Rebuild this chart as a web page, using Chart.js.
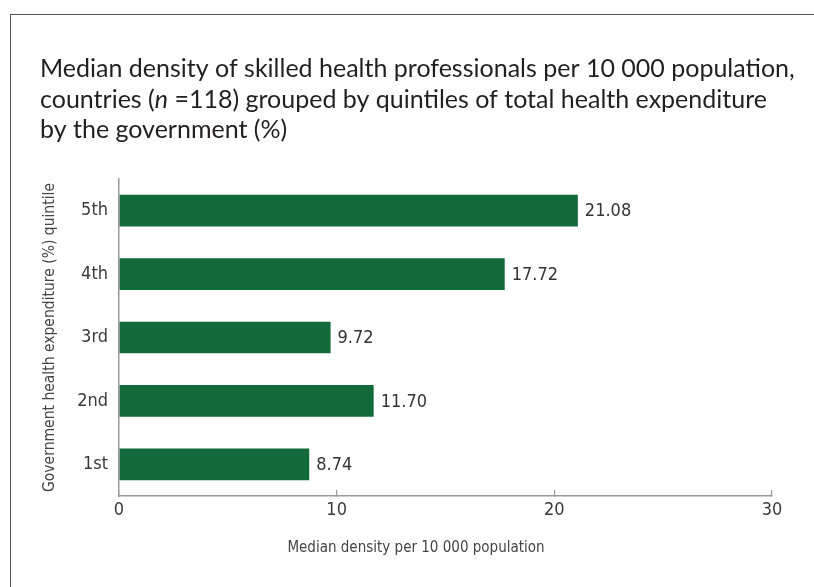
<!DOCTYPE html>
<html>
<head>
<meta charset="utf-8">
<script src="https://cdn.jsdelivr.net/npm/chart.js@4.4.1/dist/chart.umd.min.js"></script>
<style>
  html, body { margin: 0; padding: 0; background: #fff; }
  #wrap { position: relative; width: 814px; height: 587px; overflow: hidden; }
  #frame { position: absolute; left: 10px; top: 14px; width: 900px; height: 700px;
           border-top: 1.5px solid #555; border-left: 1.5px solid #555; pointer-events: none; }
</style>
</head>
<body>
<div id="wrap">
  <canvas id="chart" width="814" height="587"></canvas>
  <div id="frame"></div>
</div>
<script>
// data
const quintiles = ['1st', '2nd', '3rd', '4th', '5th'];
const medianDensity = [8.74, 11.70, 9.72, 17.72, 21.08];
const xTicks = [0, 10, 20, 30];

// title lines, split in runs so that "n" can be set in italics
const titleLines = [
    [{ text: 'Median density of skilled health professionals per 10 000 population,' }],
    [{ text: 'countries (' }, { text: 'n', italic: true }, { text: ' =118) grouped by quintiles of total health expenditure' }],
    [{ text: 'by the government (%)' }]
];
const yTitle = 'Government health expenditure (%) quintile';
const xTitle = 'Median density per 10 000 population';

const narrow = '"DejaVu Sans Condensed", "Liberation Sans Narrow", sans-serif';
const green = '#12693a';

// main title drawn in the space kept free by layout.padding.top,
// x axis title sits a bit left of the plot centre as in the original
const chartTexts = {
    id: 'chartTexts',
    afterDraw(chart) {
        const ctx = chart.ctx;
        ctx.save();
        ctx.fillStyle = '#231f20';
        ctx.textAlign = 'left';
        ctx.textBaseline = 'alphabetic';
        titleLines.forEach((runs, i) => {
            let x = 40;
            const y = 77 + i * 30.5;
            runs.forEach(r => {
                ctx.font = (r.italic ? 'italic ' : '') + '25px Lato';
                ctx.fillText(r.text, x, y);
                x += ctx.measureText(r.text).width;
            });
        });

        ctx.fillStyle = '#444';
        ctx.textAlign = 'center';
        ctx.font = '15px ' + narrow;
        ctx.fillText(xTitle, 416, 552);
        ctx.restore();
    }
};

// value labels at the end of each bar
const barValues = {
    id: 'barValues',
    afterDatasetsDraw(chart) {
        const ctx = chart.ctx;
        const meta = chart.getDatasetMeta(0);
        ctx.save();
        ctx.font = '18px ' + narrow;
        ctx.fillStyle = '#333';
        ctx.textAlign = 'left';
        ctx.textBaseline = 'middle';
        meta.data.forEach((bar, i) => {
            ctx.fillText(medianDensity[i].toFixed(2), bar.x + 7, bar.y + 1);
        });
        ctx.restore();
    }
};

new Chart(document.getElementById('chart'), {
    type: 'bar',
    data: {
        labels: quintiles,
        datasets: [{
            data: medianDensity,
            backgroundColor: green,
            barPercentage: 0.5,
            categoryPercentage: 1.0
        }]
    },
    options: {
        indexAxis: 'y',
        responsive: false,
        animation: false,
        layout: { padding: { left: 40, right: 42, top: 179, bottom: 0 } },
        plugins: {
            legend: { display: false },
            tooltip: { enabled: false },
            title: { display: false }
        },
        scales: {
            x: {
                min: 0,
                max: 30,
                afterBuildTicks(scale) { scale.ticks = xTicks.map(v => ({ value: v })); },
                afterFit(scale) { scale.height = 91; },
                grid: { drawOnChartArea: false, drawTicks: true, tickLength: -6, color: '#999', lineWidth: 1.2 },
                border: { color: '#999', width: 1.5 },
                ticks: { color: '#3a3a3a', padding: 10, font: { family: narrow, size: 18 } },
                title: { display: false }
            },
            y: {
                reverse: true,
                afterFit(scale) { scale.width = 79; },
                grid: { display: false, drawTicks: false },
                border: { color: '#999', width: 1.5 },
                ticks: { color: '#3a3a3a', padding: 11, font: { family: narrow, size: 18 } },
                title: {
                    display: true,
                    text: yTitle,
                    color: '#444',
                    font: { family: narrow, size: 15.5 },
                    padding: { top: 1, bottom: 0 }
                }
            }
        }
    },
    plugins: [barValues, chartTexts]
});
</script>
</body>
</html>
